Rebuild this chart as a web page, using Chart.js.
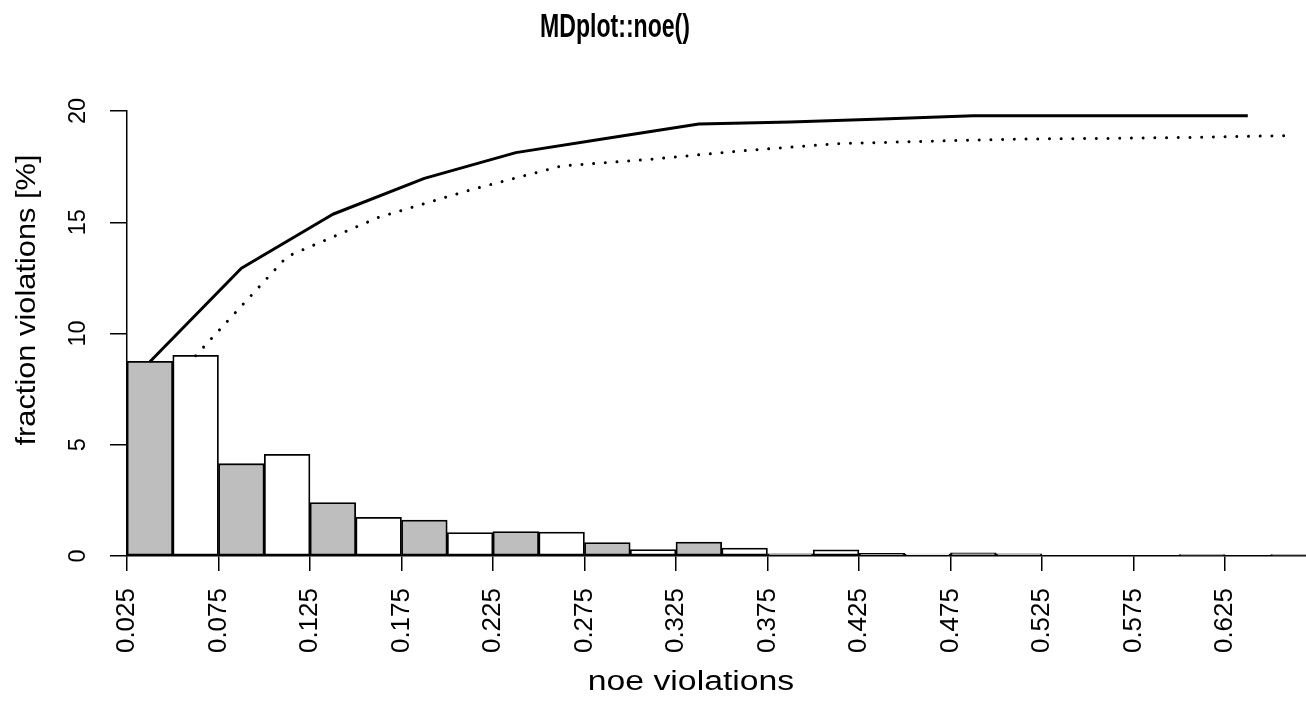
<!DOCTYPE html>
<html>
<head>
<meta charset="utf-8">
<script src="https://cdn.jsdelivr.net/npm/chart.js@4/dist/chart.umd.min.js"></script>
<style>
  html, body { margin: 0; padding: 0; background: #ffffff; }
  #wrap { width: 1306px; height: 720px; }
</style>
</head>
<body>
<div id="wrap"><canvas id="noe" width="1306" height="720"></canvas></div>
<script>
// NOE violation histogram: two interleaved distributions (bin centres in nm)
const grayMids  = [0.0375, 0.0875, 0.1375, 0.1875, 0.2375, 0.2875, 0.3375, 0.3875, 0.4375, 0.4875, 0.5375, 0.5875, 0.6375];
const grayPct   = [8.75, 4.15, 2.40, 1.62, 1.10, 0.60, 0.63, 0.10, 0.12, 0.14, 0, 0, 0];
const whiteMids = [0.0625, 0.1125, 0.1625, 0.2125, 0.2625, 0.3125, 0.3625, 0.4125, 0.4625, 0.5125, 0.5625, 0.6125, 0.6625];
const whitePct  = [9.02, 4.57, 1.74, 1.05, 1.08, 0.29, 0.36, 0.28, 0.09, 0.10, 0, 0.06, 0.06];

// cumulative fractions of violations
const graySum   = [8.73, 12.93, 15.36, 16.97, 18.13, 18.78, 19.42, 19.51, 19.64, 19.79, 19.79, 19.79, 19.79];
const whiteSum  = [9.00, 13.46, 15.22, 16.45, 17.53, 17.84, 18.22, 18.53, 18.64, 18.74, 18.77, 18.82, 18.90];

// axis ticks
const xTicks = [0.025, 0.075, 0.125, 0.175, 0.225, 0.275, 0.325, 0.375, 0.425, 0.475, 0.525, 0.575, 0.625];
const yTicks = [0, 5, 10, 15, 20];

const pts = (xs, ys) => xs.map((x, i) => ({ x: x, y: ys[i] }));

// free-standing plot texts (title and axis titles)
const plotTexts = {
  id: 'plotTexts',
  afterDraw(chart, args, opts) {
    const ctx = chart.ctx;
    opts.items.forEach(t => {
      ctx.save();
      ctx.translate(t.x, t.y);
      ctx.rotate(t.rotate || 0);
      ctx.scale(t.stretch || 1, 1);
      ctx.font = (t.weight || 'normal') + ' ' + t.size + 'px "Liberation Sans", Arial, sans-serif';
      ctx.fillStyle = '#000000';
      ctx.textAlign = 'center';
      ctx.textBaseline = 'alphabetic';
      ctx.fillText(t.text, 0, 0);
      ctx.restore();
    });
  }
};

new Chart(document.getElementById('noe'), {
  type: 'bar',
  data: {
    datasets: [
      {
        type: 'line', label: 'cumulative (grey)', order: 0,
        data: pts(grayMids, graySum),
        borderColor: '#000000', borderWidth: 3, pointRadius: 0, tension: 0,
        borderCapStyle: 'butt', borderJoinStyle: 'round', fill: false
      },
      {
        type: 'line', label: 'cumulative (white)', order: 0,
        data: pts(whiteMids, whiteSum),
        borderColor: '#000000', borderWidth: 3, pointRadius: 0, tension: 0,
        borderDash: [0.01, 11.7], borderCapStyle: 'round', fill: false
      },
      {
        label: 'grey bins', order: 1, grouped: false,
        data: pts(grayMids, grayPct),
        backgroundColor: '#bebebe', borderColor: '#000000', borderWidth: 1.8,
        borderSkipped: false, barPercentage: 1, categoryPercentage: 1
      },
      {
        label: 'white bins', order: 1, grouped: false,
        data: pts(whiteMids, whitePct),
        backgroundColor: '#ffffff', borderColor: '#000000', borderWidth: 1.8,
        borderSkipped: false, barPercentage: 1, categoryPercentage: 1
      }
    ]
  },
  options: {
    responsive: false,
    devicePixelRatio: 1,
    animation: false,
    layout: { padding: { top: 111, right: 0, bottom: 0, left: 0 } },
    plugins: {
      legend: { display: false },
      tooltip: { enabled: false },
      title: { display: false },
      plotTexts: {
        items: [
          { text: 'MDplot::noe()', x: 615, y: 37, size: 32.5, weight: 'bold', stretch: 0.71 },
          { text: 'noe violations', x: 691, y: 690, size: 27, stretch: 1.25 },
          { text: 'fraction violations [%]', x: 35, y: 300, size: 28, rotate: -Math.PI / 2, stretch: 1.1 }
        ]
      }
    },
    scales: {
      x: {
        type: 'linear',
        min: 0.025,
        max: 0.6693,
        offset: false,
        afterFit(scale) { scale.height = 164; scale.paddingLeft = 0; scale.paddingRight = 0; },
        afterBuildTicks(scale) { scale.ticks = xTicks.map(v => ({ value: v })); },
        grid: { display: true, offset: false, drawOnChartArea: false, drawTicks: true, tickLength: 15, color: '#000000', lineWidth: 1.5 },
        border: { display: true, color: '#000000', width: 1.5 },
        ticks: {
          autoSkip: false, minRotation: 90, maxRotation: 90, padding: 17,
          color: '#000000',
          font: { family: '"Liberation Sans", Arial, sans-serif', size: 26 },
          callback: v => v.toFixed(3)
        }
      },
      y: {
        type: 'linear',
        min: 0,
        max: 20,
        afterFit(scale) { scale.width = 127; scale.paddingTop = 0; scale.paddingBottom = 0; },
        afterBuildTicks(scale) { scale.ticks = yTicks.map(v => ({ value: v })); },
        grid: { display: true, drawOnChartArea: false, drawTicks: true, tickLength: 17, color: '#000000', lineWidth: 1.5 },
        border: { display: true, color: '#000000', width: 1.5 },
        ticks: {
          minRotation: 90, maxRotation: 90, padding: 18, crossAlign: 'center',
          color: '#000000',
          font: { family: '"Liberation Sans", Arial, sans-serif', size: 23.5 },
          callback: v => String(v)
        }
      }
    }
  },
  plugins: [plotTexts]
});
</script>
</body>
</html>
